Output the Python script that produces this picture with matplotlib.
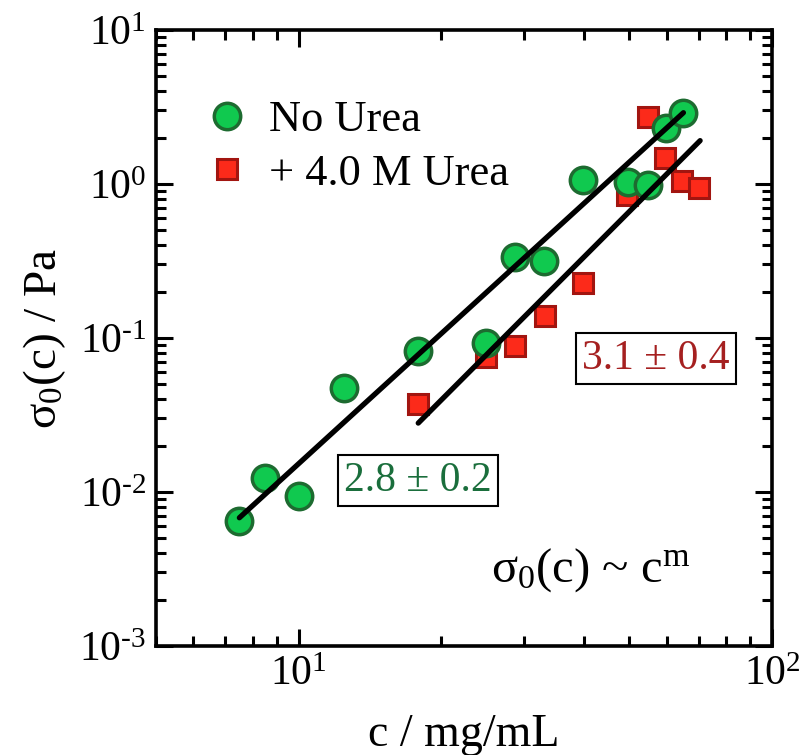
import matplotlib
matplotlib.use("Agg")
import math
import matplotlib.pyplot as plt
from matplotlib.ticker import LogLocator, FuncFormatter, NullFormatter

plt.rcParams['font.family'] = ['Liberation Serif', 'DejaVu Serif']
plt.rcParams['mathtext.fontset'] = 'custom'
plt.rcParams['mathtext.rm'] = 'Liberation Serif'
plt.rcParams['mathtext.it'] = 'Liberation Serif:italic'
plt.rcParams['mathtext.bf'] = 'Liberation Serif:bold'
plt.rcParams['axes.unicode_minus'] = False

# Data
no_urea_c = [7.5, 8.5, 10.0, 12.5, 17.9, 24.9, 28.7, 33.0, 39.8, 49.7, 54.8, 59.8, 64.9]
no_urea_s = [0.0065, 0.0123, 0.0094, 0.0476, 0.082, 0.093, 0.334, 0.316, 1.06, 1.03, 0.99, 2.32, 2.87]
urea_c = [17.9, 24.9, 28.7, 33.1, 39.9, 49.5, 54.8, 59.5, 64.5, 70.0]
urea_s = [0.0373, 0.075, 0.088, 0.138, 0.226, 0.85, 2.73, 1.47, 1.05, 0.94]
fit1_c = [7.5, 65.0]
fit1_s = [0.0068, 2.90]
fit2_c = [17.9, 70.5]
fit2_s = [0.028, 1.91]
labels = ["No Urea", "+ 4.0 M Urea"]
exp1_text = "2.8 \u00b1 0.2"
exp2_text = "3.1 \u00b1 0.4"


def pow10_label(v, pos):
    e = int(round(math.log10(v)))
    if e < 0:
        return "10$^{\\text{-}%d}$" % (-e)
    return "10$^{%d}$" % e


fig = plt.figure(figsize=(8.0, 7.55), dpi=100)
ax = fig.add_axes([0.195, 0.1444, 0.77, 0.816])

ax.plot(fit1_c, fit1_s, color='black', lw=3.8, solid_capstyle='round', zorder=3)
ax.plot(fit2_c, fit2_s, color='black', lw=3.8, solid_capstyle='round', zorder=3)

ax.plot(urea_c, urea_s, linestyle='none', marker='s', ms=15, mfc='#fc2a1a', mec='#a21510', mew=2.2,
        label=labels[1], zorder=2)
ax.plot(no_urea_c, no_urea_s, linestyle='none', marker='o', ms=19, mfc='#10c94f', mec='#1d6b30', mew=2.5,
        label=labels[0], zorder=2)

ax.set_xscale('log')
ax.set_yscale('log')
ax.set_xlim(5, 100)
ax.set_ylim(1e-3, 10)

ax.xaxis.set_major_locator(LogLocator(base=10, numticks=10))
ax.yaxis.set_major_locator(LogLocator(base=10, numticks=10))
ax.xaxis.set_minor_locator(LogLocator(base=10, subs=range(2, 10), numticks=20))
ax.yaxis.set_minor_locator(LogLocator(base=10, subs=range(2, 10), numticks=20))
ax.xaxis.set_major_formatter(FuncFormatter(pow10_label))
ax.yaxis.set_major_formatter(FuncFormatter(pow10_label))
ax.xaxis.set_minor_formatter(NullFormatter())
ax.yaxis.set_minor_formatter(NullFormatter())

ax.tick_params(which='both', direction='in', top=True, right=True, width=2.2)
ax.tick_params(which='major', length=12, labelsize=30, pad=7)
ax.tick_params(which='minor', length=7)
for sp in ax.spines.values():
    sp.set_linewidth(2.6)

ax.set_xlabel("c / mg/mL", fontsize=33, labelpad=14)
ax.set_ylabel("\u03c3$_0$(c) / Pa", fontsize=34, labelpad=8)

h, l = ax.get_legend_handles_labels()
ax.legend([h[1], h[0]], [l[1], l[0]], loc='upper left', frameon=False, fontsize=32,
          bbox_to_anchor=(0.05, 0.915), handletextpad=0.45, labelspacing=0.3, handlelength=1.0,
          borderaxespad=0)

ax.text(17.85, 0.0118, exp1_text, fontsize=30, color='#1a6e3c', ha='center', va='center',
        bbox=dict(boxstyle='square,pad=0.15', fc='white', ec='black', lw=1.5))
ax.text(56.9, 0.073, exp2_text, fontsize=30, color='#a52020', ha='center', va='center',
        bbox=dict(boxstyle='square,pad=0.15', fc='white', ec='black', lw=1.5))
ax.text(41.4, 0.0031, "\u03c3$_0$(c) ~ c$^\\mathrm{m}$", fontsize=35, color='black', ha='center', va='center')

fig.savefig("out.png", dpi=100)
